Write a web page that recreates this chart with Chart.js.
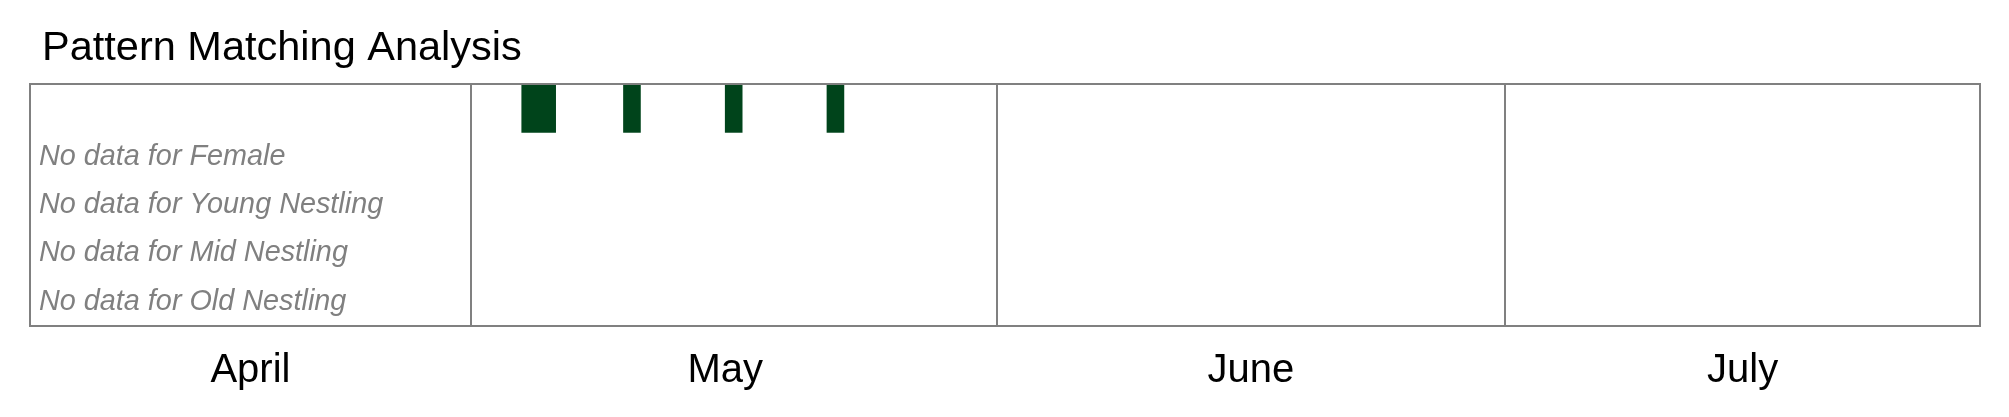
<!DOCTYPE html>
<html>
<head>
<meta charset="utf-8">
<title>Pattern Matching Analysis</title>
<script src="https://cdn.jsdelivr.net/npm/chart.js@4/dist/chart.umd.min.js"></script>
<style>
  html, body { margin: 0; padding: 0; background: #fff; width: 2009px; height: 417px; overflow: hidden; }
  #chart { display: block; width: 2009px; height: 417px; }
</style>
</head>
<body>
<canvas id="chart" width="2009" height="417"></canvas>
<script>
// timeline rows, top to bottom
const rows = ["Male", "Female", "Young Nestling", "Mid Nestling", "Old Nestling"];
const emptyRows = ["Female", "Young Nestling", "Mid Nestling", "Old Nestling"];

// matches on the first row, days counted from April 5
const matchStart = [29, 35, 41, 47];
const matchEnd = [31, 36, 42, 48];

// month labels and month boundaries, same day numbers
const monthNames = ["April", "May", "June", "July"];
const monthLabelDay = [13, 41, 72, 101];
const monthStartDay = [26, 57, 87];
const lastDay = 115;

const FONT = "'Liberation Sans', Arial, Helvetica, sans-serif";
const GREY = "#808080";

// frame, "no data" notes and the title
const framePlugin = {
    id: "frame",
    afterDatasetsDraw(chart) {
        const ctx = chart.ctx;
        const a = chart.chartArea;
        const yScale = chart.scales.y;
        ctx.save();
        ctx.strokeStyle = GREY;
        ctx.lineWidth = 2;
        ctx.strokeRect(a.left, a.top, a.right - a.left, a.bottom - a.top);

        ctx.fillStyle = GREY;
        ctx.font = "italic 28.8px " + FONT;
        ctx.textBaseline = "middle";
        emptyRows.forEach(name => {
            const y = yScale.getPixelForValue(rows.indexOf(name));
            ctx.fillText("No data for " + name, a.left + 9, y);
        });

        ctx.fillStyle = "#000";
        ctx.font = "41.5px " + FONT;
        ctx.textBaseline = "alphabetic";
        ctx.fillText("Pattern Matching Analysis", a.left + 12, 60);
        ctx.restore();
    }
};

const ctx = document.getElementById("chart").getContext("2d");
const myChart = new Chart(ctx, {
    type: "bar",
    data: {
        labels: rows,
        datasets: [{
            label: "Matches",
            data: matchStart.map((s, i) => ({ y: rows[0], x: [s, matchEnd[i]] })),
            backgroundColor: "#00441b",
            borderWidth: 0,
            categoryPercentage: 1,
            barPercentage: 1
        }]
    },
    options: {
        indexAxis: "y",
        responsive: false,
        devicePixelRatio: 1,
        animation: false,
        layout: { padding: { top: 84, left: 30, right: 29, bottom: 1 } },
        plugins: {
            legend: { display: false },
            title: { display: false },
            tooltip: { enabled: false }
        },
        scales: {
            x: {
                type: "linear",
                position: "bottom",
                min: 0,
                max: lastDay,
                grid: { display: false, drawTicks: false },
                border: { display: false },
                afterBuildTicks: axis => { axis.ticks = monthLabelDay.map(v => ({ value: v })); },
                ticks: {
                    autoSkip: false,
                    maxRotation: 0,
                    padding: 21,
                    color: "#000",
                    font: { family: FONT, size: 40 },
                    callback: (value, index) => monthNames[index]
                }
            },
            months: {
                type: "linear",
                position: "top",
                min: 0,
                max: lastDay,
                afterBuildTicks: axis => { axis.ticks = monthStartDay.map(v => ({ value: v })); },
                grid: { color: GREY, lineWidth: 2, drawTicks: false },
                border: { display: false },
                ticks: { display: false }
            },
            y: {
                type: "category",
                display: false
            }
        }
    },
    plugins: [framePlugin]
});
</script>
</body>
</html>
